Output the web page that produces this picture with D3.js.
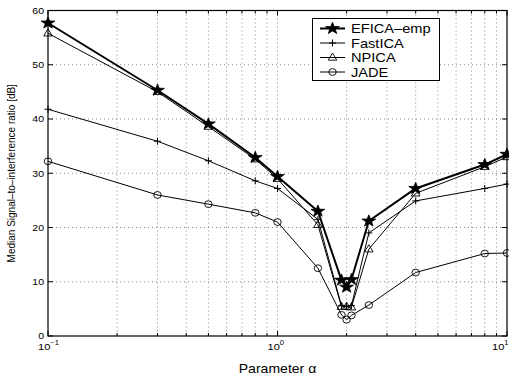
<!DOCTYPE html>
<html>
<head>
<meta charset="utf-8">
<script src="https://cdn.jsdelivr.net/npm/d3@7"></script>
<style>
  html, body { margin: 0; padding: 0; background: #fff; }
  svg { display: block; font-family: "Liberation Sans", Arial, Helvetica, sans-serif; }
</style>
</head>
<body>
<svg id="chart" width="509" height="379"></svg>
<script>
// Parameter alpha values (log axis)
const alpha = [0.1, 0.3, 0.5, 0.8, 1, 1.5, 1.9, 2, 2.1, 2.5, 4, 8, 10];

// Median SIR [dB] for each method
const eficaEmp = [57.7, 45.3, 39.1, 32.9, 29.4, 23.0, 10.3, 9.0, 10.4, 21.2, 27.2, 31.6, 33.5];
const fastIca  = [41.8, 35.9, 32.3, 28.6, 27.2, 21.5, 5.6, 5.5, 5.6, 19.0, 24.9, 27.2, 28.0];
const npica    = [55.8, 45.0, 38.6, 32.6, 29.0, 20.5, 5.4, 5.4, 5.3, 16.0, 26.3, 31.2, 33.0];
const jade     = [32.2, 26.0, 24.3, 22.7, 21.0, 12.5, 3.9, 3.0, 3.8, 5.7, 11.7, 15.2, 15.3];

const seriesNames = ["EFICA\u2013emp", "FastICA", "NPICA", "JADE"];
const yTicks = [0, 10, 20, 30, 40, 50, 60];
const xDecades = [0.1, 1, 10];
const xDecadeExp = ["\u22121", "0", "1"];

const svg = d3.select("#chart");
const L = 48, R = 507, T = 10.5, B = 336;
const SX = 1.17; // horizontal text stretch

const x = d3.scaleLog().domain([0.1, 10]).range([L, R]);
const y = d3.scaleLinear().domain([0, 60]).range([B, T]);

// minor positions 0.2..0.9, 2..9
const minor = [];
[0.1, 1].forEach(d => { for (let k = 2; k <= 9; k++) minor.push(+(d * k).toFixed(2)); });
const xGrid = minor.concat([1]);

const grid = svg.append("g").attr("stroke", "#000").attr("stroke-width", 0.7)
  .attr("stroke-dasharray", "1,3").attr("opacity", 0.65);
xGrid.forEach(v => grid.append("line").attr("x1", x(v)).attr("x2", x(v)).attr("y1", T).attr("y2", B));
yTicks.filter(v => v > 0 && v < 60).forEach(v =>
  grid.append("line").attr("x1", L).attr("x2", R).attr("y1", y(v)).attr("y2", y(v)));

// Inward ticks on all four sides
const ticks = svg.append("g").attr("stroke", "#000").attr("stroke-width", 1);
yTicks.forEach(v => {
  ticks.append("line").attr("x1", L).attr("x2", L + 5).attr("y1", y(v)).attr("y2", y(v));
  ticks.append("line").attr("x1", R).attr("x2", R - 5).attr("y1", y(v)).attr("y2", y(v));
});
minor.forEach(v => {
  ticks.append("line").attr("x1", x(v)).attr("x2", x(v)).attr("y1", B).attr("y2", B - 3);
  ticks.append("line").attr("x1", x(v)).attr("x2", x(v)).attr("y1", T).attr("y2", T + 3);
});
xDecades.forEach(v => {
  ticks.append("line").attr("x1", x(v)).attr("x2", x(v)).attr("y1", B).attr("y2", B - 5);
  ticks.append("line").attr("x1", x(v)).attr("x2", x(v)).attr("y1", T).attr("y2", T + 5);
});

// Frame
svg.append("rect").attr("x", L).attr("y", T).attr("width", R - L).attr("height", B - T)
  .attr("fill", "none").attr("stroke", "#000").attr("stroke-width", 1.2);

// Stretched text helper
function txt(g, tx, ty, size, anchor, s) {
  return g.append("text").attr("transform", `translate(${tx},${ty}) scale(${SX},1)`)
    .attr("text-anchor", anchor).attr("font-size", size).text(s);
}

// Y tick labels
yTicks.forEach(v => txt(svg, L - 4, y(v) + 3.3, 9, "end", v));

// X tick labels as 10^n
xDecades.forEach((v, i) => {
  const px = Math.min(x(v) - 10, 509 - 17);
  const t = svg.append("text").attr("transform", `translate(${px},${B + 14}) scale(${SX},1)`)
    .attr("font-size", 9.5);
  t.append("tspan").text("10");
  t.append("tspan").attr("dy", -5).attr("font-size", 6.5).text(xDecadeExp[i]);
});

// Axis titles
txt(svg, (L + R) / 2, 373, 12, "middle", "Parameter \u03b1");
svg.append("text").attr("transform", `translate(15,${(T + B) / 2}) rotate(-90) scale(1,${SX})`)
  .attr("text-anchor", "middle").attr("font-size", 10)
  .text("Median Signal\u2013to\u2013interference ratio [dB]");

// Markers
function star(g, cx, cy, r) {
  const pts = [];
  for (let i = 0; i < 10; i++) {
    const a = -Math.PI / 2 + i * Math.PI / 5;
    const rr = i % 2 === 0 ? r : r * 0.4;
    pts.push([cx + rr * SX * Math.cos(a), cy + rr * Math.sin(a)]);
  }
  g.append("polygon").attr("points", pts.map(p => p.join(",")).join(" "))
    .attr("fill", "#000").attr("stroke", "#000").attr("stroke-width", 0.8);
}
function plus(g, cx, cy, r) {
  g.append("path").attr("d", `M${cx - r},${cy}H${cx + r}M${cx},${cy - r}V${cy + r}`)
    .attr("stroke", "#000").attr("stroke-width", 1);
}
function tri(g, cx, cy, r) {
  g.append("path").attr("d", `M${cx},${cy - r}L${cx + r * 0.95},${cy + r * 0.6}L${cx - r * 0.95},${cy + r * 0.6}Z`)
    .attr("fill", "none").attr("stroke", "#000").attr("stroke-width", 0.9);
}
function circ(g, cx, cy, r) {
  g.append("ellipse").attr("cx", cx).attr("cy", cy).attr("rx", r * 1.1).attr("ry", r)
    .attr("fill", "none").attr("stroke", "#000").attr("stroke-width", 0.9);
}

const series = [
  { vals: jade, w: 1, mark: (g, a, b) => circ(g, a, b, 3.4) },
  { vals: npica, w: 1, mark: (g, a, b) => tri(g, a, b, 4.5) },
  { vals: fastIca, w: 1, mark: (g, a, b) => plus(g, a, b, 3.5) },
  { vals: eficaEmp, w: 2, mark: (g, a, b) => star(g, a, b, 6.2) }
];

const line = d3.line().x((d, i) => x(alpha[i])).y(d => y(d));
const plot = svg.append("g");
series.forEach(s => {
  plot.append("path").attr("d", line(s.vals)).attr("fill", "none")
    .attr("stroke", "#000").attr("stroke-width", s.w).attr("stroke-linejoin", "round");
  const g = plot.append("g");
  s.vals.forEach((v, i) => s.mark(g, x(alpha[i]), y(v)));
});

// Legend
const lg = svg.append("g");
lg.append("rect").attr("x", 312.5).attr("y", 18.5).attr("width", 127).attr("height", 62)
  .attr("fill", "#fff").attr("stroke", "#000").attr("stroke-width", 1);
const legendMarks = [series[3], series[2], series[1], series[0]];
seriesNames.forEach((name, i) => {
  const ly = 28.5 + i * 14.5;
  lg.append("line").attr("x1", 320).attr("x2", 345).attr("y1", ly).attr("y2", ly)
    .attr("stroke", "#000").attr("stroke-width", legendMarks[i].w);
  legendMarks[i].mark(lg, 332.5, ly);
  txt(lg, 351, ly + 4.5, 12.5, "start", name);
});
</script>
</body>
</html>
